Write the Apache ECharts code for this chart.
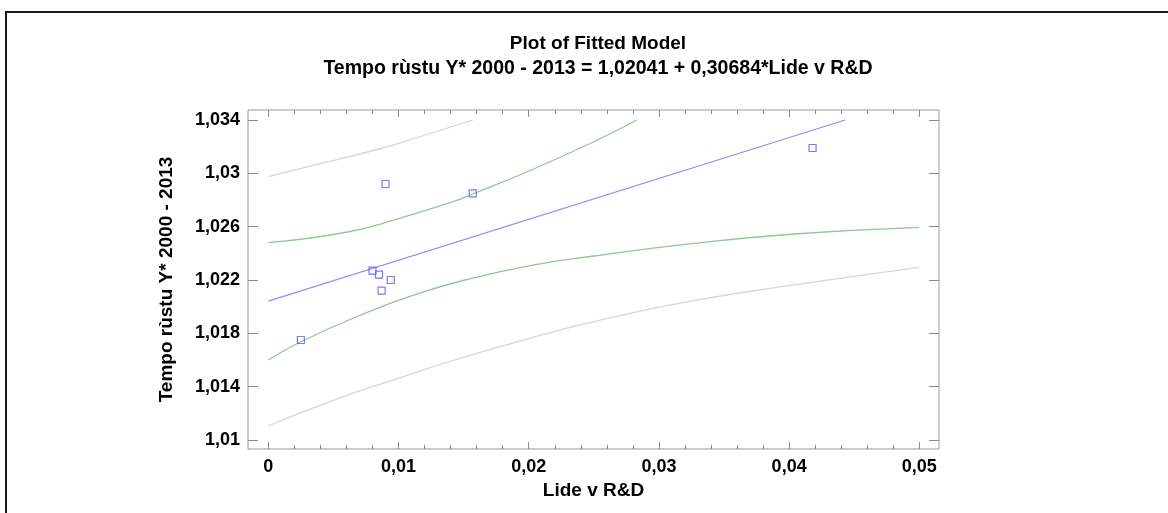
<!DOCTYPE html>
<html>
<head>
<meta charset="utf-8">
<script src="https://cdn.jsdelivr.net/npm/echarts@6/dist/echarts.min.js"></script>
<style>html,body{margin:0;padding:0;background:#fff}#c{width:1168px;height:513px}</style>
</head>
<body>
<div id="c"></div>
<script>
// ---- data ----
const pointsX = [0.0025, 0.0080, 0.0085, 0.0087, 0.0094, 0.0090, 0.0157, 0.0418];
const pointsY = [1.0175, 1.0227, 1.0224, 1.0212, 1.0220, 1.0292, 1.0285, 1.0319];

const fitX = [0, 0.0443];
const fitY = [1.02041, 1.0340];

const upperConfX = [0, 0.0061, 0.0100, 0.0138, 0.0157, 0.0202, 0.0250, 0.0283];
const upperConfY = [1.0248, 1.0256, 1.0266, 1.02775, 1.02845, 1.03025, 1.03237, 1.0340];

const lowerConfX = [0, 0.0025, 0.0074, 0.0112, 0.0151, 0.0202, 0.0250, 0.0327, 0.0404, 0.0500];
const lowerConfY = [1.0160, 1.01737, 1.0195, 1.02088, 1.0220, 1.0231, 1.0238, 1.02475, 1.02545, 1.02595];

const upperPredX = [0, 0.0036, 0.0082, 0.0118, 0.0157];
const upperPredY = [1.02975, 1.03063, 1.03175, 1.0328, 1.0340];

const lowerPredX = [0, 0.0054, 0.0100, 0.0138, 0.0189, 0.0250, 0.0327, 0.0404, 0.0500];
const lowerPredY = [1.01107, 1.01313, 1.01463, 1.01585, 1.0173, 1.01888, 1.02045, 1.02163, 1.02295];

const xTickValues = [0, 0.01, 0.02, 0.03, 0.04, 0.05];
const xTickLabels = ['0', '0,01', '0,02', '0,03', '0,04', '0,05'];
const xMinorValues = [0.002,0.004,0.006,0.008,0.012,0.014,0.016,0.018,0.022,0.024,0.026,0.028,0.032,0.034,0.036,0.038,0.042,0.044,0.046,0.048];
const yTickValues = [1.01, 1.014, 1.018, 1.022, 1.026, 1.03, 1.034];
const yTickLabels = ['1,01', '1,014', '1,018', '1,022', '1,026', '1,03', '1,034'];

const titleText = 'Plot of Fitted Model';
const subText = 'Tempo rùstu Y* 2000 - 2013 = 1,02041 + 0,30684*Lide v R&D';
const xName = 'Lide v R&D';
const yName = 'Tempo rùstu Y* 2000 - 2013';

// ---- build ----
const zip = (a, b) => a.map((v, i) => [v, b[i]]);
const XMIN = -0.00156, XMAX = 0.05151, YMIN = 1.009325, YMAX = 1.03475;
const FONT = 'Liberation Sans, Arial, sans-serif';
const tickColor = '#8a8a8a';

function labelFor(values, labels) {
  return v => {
    for (let i = 0; i < values.length; i++) if (Math.abs(values[i] - v) < 1e-9) return labels[i];
    return '';
  };
}
function xAx(pos, vals, len, withLabel) {
  const a = {
    type: 'value', position: pos, min: XMIN, max: XMAX,
    axisLine: {show: false, onZero: false}, splitLine: {show: false},
    axisTick: {show: true, inside: true, length: len, customValues: vals, lineStyle: {color: tickColor, width: 1}},
    axisLabel: {show: false}
  };
  if (withLabel) {
    a.axisLabel = {show: true, customValues: xTickValues, formatter: labelFor(xTickValues, xTickLabels),
      fontFamily: FONT, fontWeight: 'bold', fontSize: 18, color: '#000', margin: 9};
    a.name = xName; a.nameLocation = 'middle'; a.nameGap = 29;
    a.nameTextStyle = {fontFamily: FONT, fontWeight: 'bold', fontSize: 19, color: '#000'};
  }
  return a;
}
function yAx(pos, withLabel) {
  const a = {
    type: 'value', position: pos, min: YMIN, max: YMAX,
    axisLine: {show: false, onZero: false}, splitLine: {show: false},
    axisTick: {show: true, inside: true, length: 10, customValues: yTickValues, lineStyle: {color: tickColor, width: 1}},
    axisLabel: {show: false}
  };
  if (withLabel) {
    a.axisLabel = {show: true, customValues: yTickValues, formatter: labelFor(yTickValues, yTickLabels),
      fontFamily: FONT, fontWeight: 'bold', fontSize: 18, color: '#000', margin: 8};
    a.name = yName; a.nameLocation = 'middle'; a.nameGap = 72; a.nameRotate = 90;
    a.nameTextStyle = {fontFamily: FONT, fontWeight: 'bold', fontSize: 19, color: '#000'};
  }
  return a;
}
function lineS(name, x, y, color) {
  return {name, type: 'line', data: zip(x, y), showSymbol: false, smooth: 0.5,
    lineStyle: {color, width: 1.3}, xAxisIndex: 0, yAxisIndex: 0, z: 2, silent: true};
}

const chart = echarts.init(document.getElementById('c'), null, {renderer: 'canvas'});
chart.setOption({
  animation: false,
  backgroundColor: '#fff',
  title: {
    text: titleText, subtext: subText, left: 593, textAlign: 'center', top: 29, itemGap: 6,
    textStyle: {fontFamily: FONT, fontWeight: 'bold', fontSize: 19, color: '#000'},
    subtextStyle: {fontFamily: FONT, fontWeight: 'bold', fontSize: 19.5, color: '#000'}
  },
  graphic: [{type: 'rect', shape: {x: 6, y: 12, width: 1300, height: 700},
    style: {fill: 'none', stroke: '#1a1a1a', lineWidth: 2}, silent: true}],
  grid: {left: 248, right: 229, top: 110, bottom: 64, show: true, borderColor: '#999', borderWidth: 1, backgroundColor: 'transparent'},
  xAxis: [
    xAx('bottom', xTickValues, 7, true),
    xAx('bottom', xMinorValues, 4, false),
    xAx('top', xTickValues, 7, false),
    xAx('top', xMinorValues, 4, false)
  ],
  yAxis: [yAx('left', true), yAx('right', false)],
  series: [
    lineS('Upper prediction', upperPredX, upperPredY, '#d6d6d6'),
    lineS('Lower prediction', lowerPredX, lowerPredY, '#d6d6d6'),
    lineS('Upper confidence', upperConfX, upperConfY, '#8ccb8c'),
    lineS('Lower confidence', lowerConfX, lowerConfY, '#8ccb8c'),
    {name: 'Fitted', type: 'line', data: zip(fitX, fitY), showSymbol: false,
      lineStyle: {color: '#8f8ff6', width: 1.3}, xAxisIndex: 0, yAxisIndex: 0, z: 3, silent: true},
    {name: 'Observed', type: 'scatter', data: zip(pointsX, pointsY), symbol: 'rect', symbolSize: 7,
      itemStyle: {color: 'rgba(255,255,255,0)', borderColor: '#5a5af0', borderWidth: 1.2},
      xAxisIndex: 0, yAxisIndex: 0, z: 4}
  ]
});
</script>
</body>
</html>
